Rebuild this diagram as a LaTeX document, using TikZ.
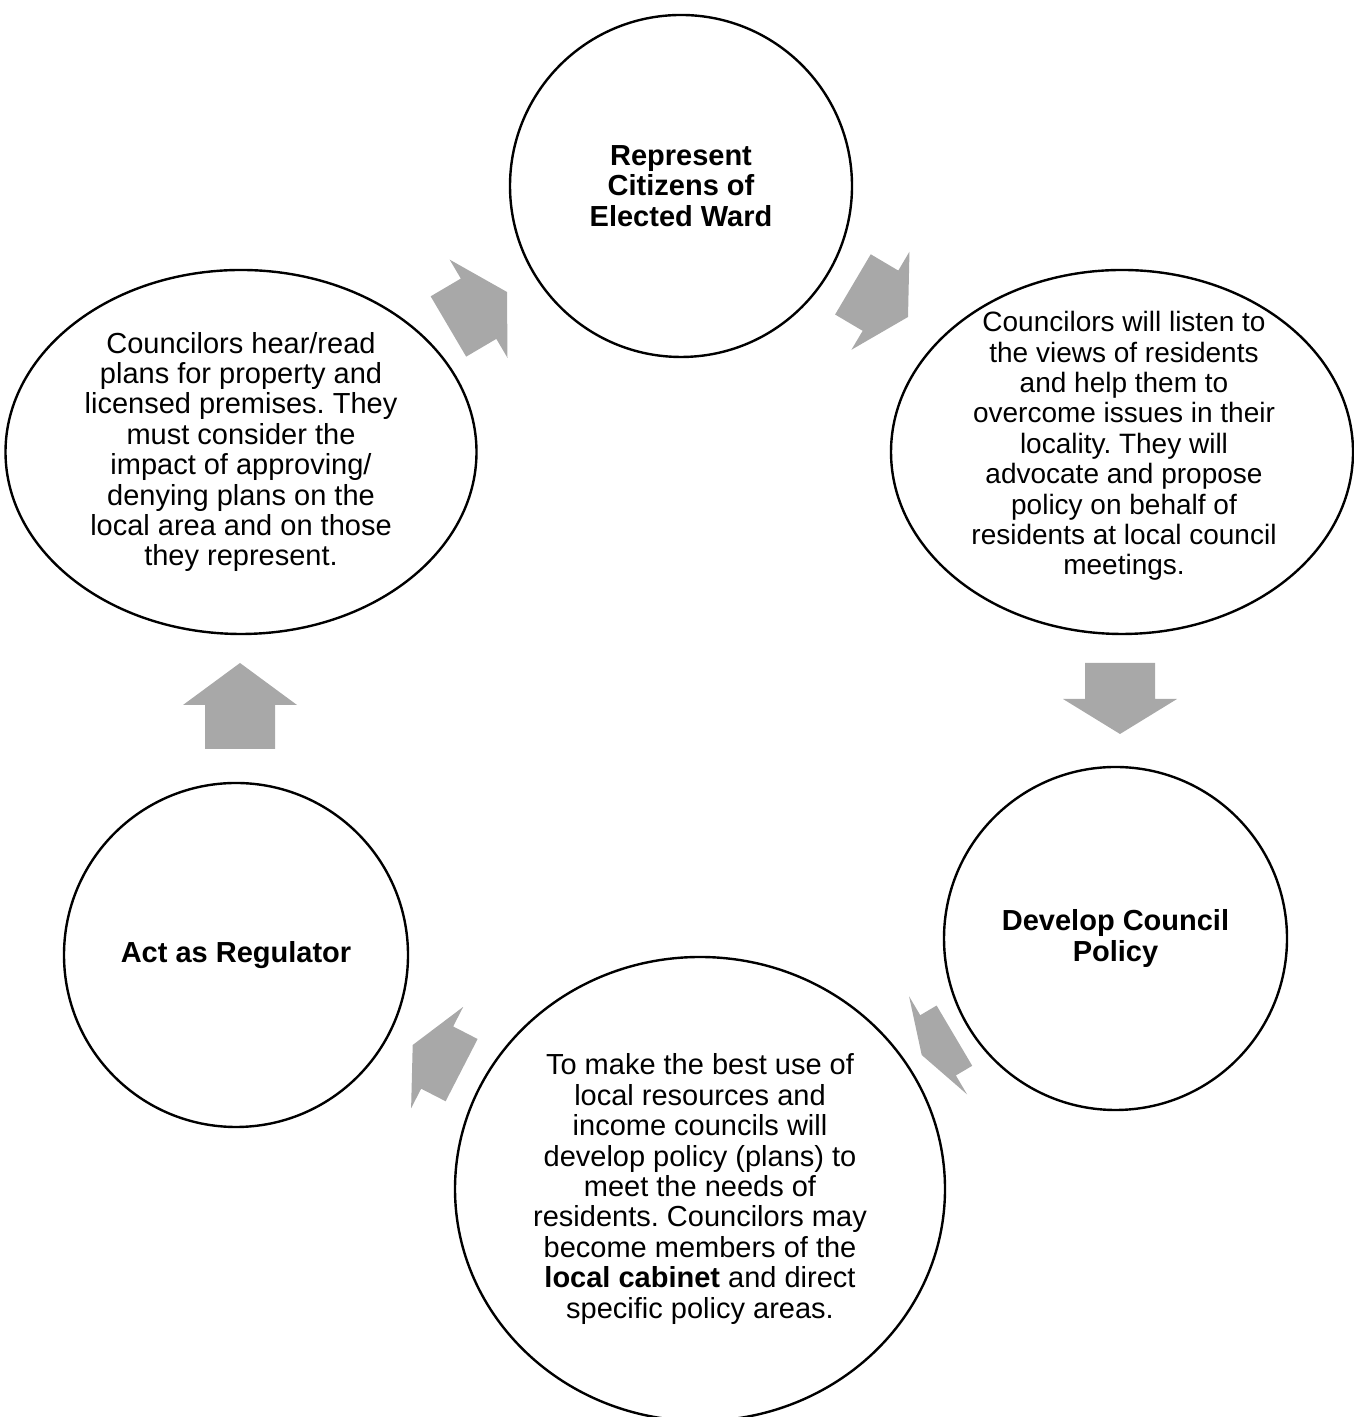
\documentclass[tikz,border=0pt]{standalone}
\usepackage{fontspec}
\setmainfont{Liberation Sans}
\usetikzlibrary{shapes.geometric}
\definecolor{arrowgray}{RGB}{168,168,168}
\newcommand{\bodyfont}{\fontsize{14.5}{15.2}\selectfont}
\tikzset{
  bubble/.style={draw, line width=1.2pt, fill=white, inner sep=0pt, align=center, font=\bodyfont},
  roundbubble/.style={bubble, circle},
  ovalbubble/.style={bubble, ellipse},
  titletext/.style={font=\bodyfont\bfseries}
}

\begin{document}
\frenchspacing
\begin{tikzpicture}[x=0.5pt, y=0.5pt]
        \useasboundingbox (0,0) rectangle (1353,1417);

        \node[roundbubble, titletext, minimum size=171pt] (represent) at (681,1231) {
            Represent\\ Citizens of\\ Elected Ward};

        \node[ovalbubble, minimum width=231pt, minimum height=182pt,
              label={[align=center, font=\fontsize{14}{15.2}\selectfont, xshift=1pt, yshift=3pt]center:{
            Councilors will listen to\\ the views of residents\\ and help them to\\
            overcome issues in their\\ locality. They will\\ advocate and propose\\
            policy on behalf of\\ residents at local council\\ meetings.}}] (listen) at (1122,965) {};

        \node[roundbubble, titletext, minimum size=171.5pt] (develop) at (1115.5,478.5) {
            Develop Council\\ Policy};

        \node[ovalbubble, minimum width=245pt, minimum height=232pt] (resources) at (700,228) {
            To make the best use of\\ local resources and\\ income councils will\\
            develop policy (plans) to\\ meet the needs of\\ residents. Councilors may\\
            become members of the\\ \textbf{local cabinet} and direct\\ specific policy areas.};

        \node[roundbubble, titletext, minimum size=172pt] (regulator) at (236,462) {
            Act as Regulator};

        \node[ovalbubble, minimum width=235.5pt, minimum height=182pt] (hear) at (241,965) {
            Councilors hear/read\\ plans for property and\\ licensed premises. They\\
            must consider the\\ impact of approving/\\ denying plans on the\\
            local area and on those\\ they represent.};

        % block arrows: tip x / tip y / angle / length / head length
        \foreach \tx/\ty/\ang/\len/\hd in {507/1125/30.5/68/33, 908/1100/-30.6/64/32,
                1120/683/-90/71/35, 921.7/362/210.6/38/19, 412.7/372/152.8/55/27.5, 240/754/90/86/42} {
            \fill[arrowgray, shift={(\tx,\ty)}, rotate=\ang]
                (0,0) -- (-\hd,57) -- (-\hd,35) -- (-\len,35) -- (-\len,-35) -- (-\hd,-35) -- (-\hd,-57) -- cycle;
        }

    \end{tikzpicture}
\end{document}
